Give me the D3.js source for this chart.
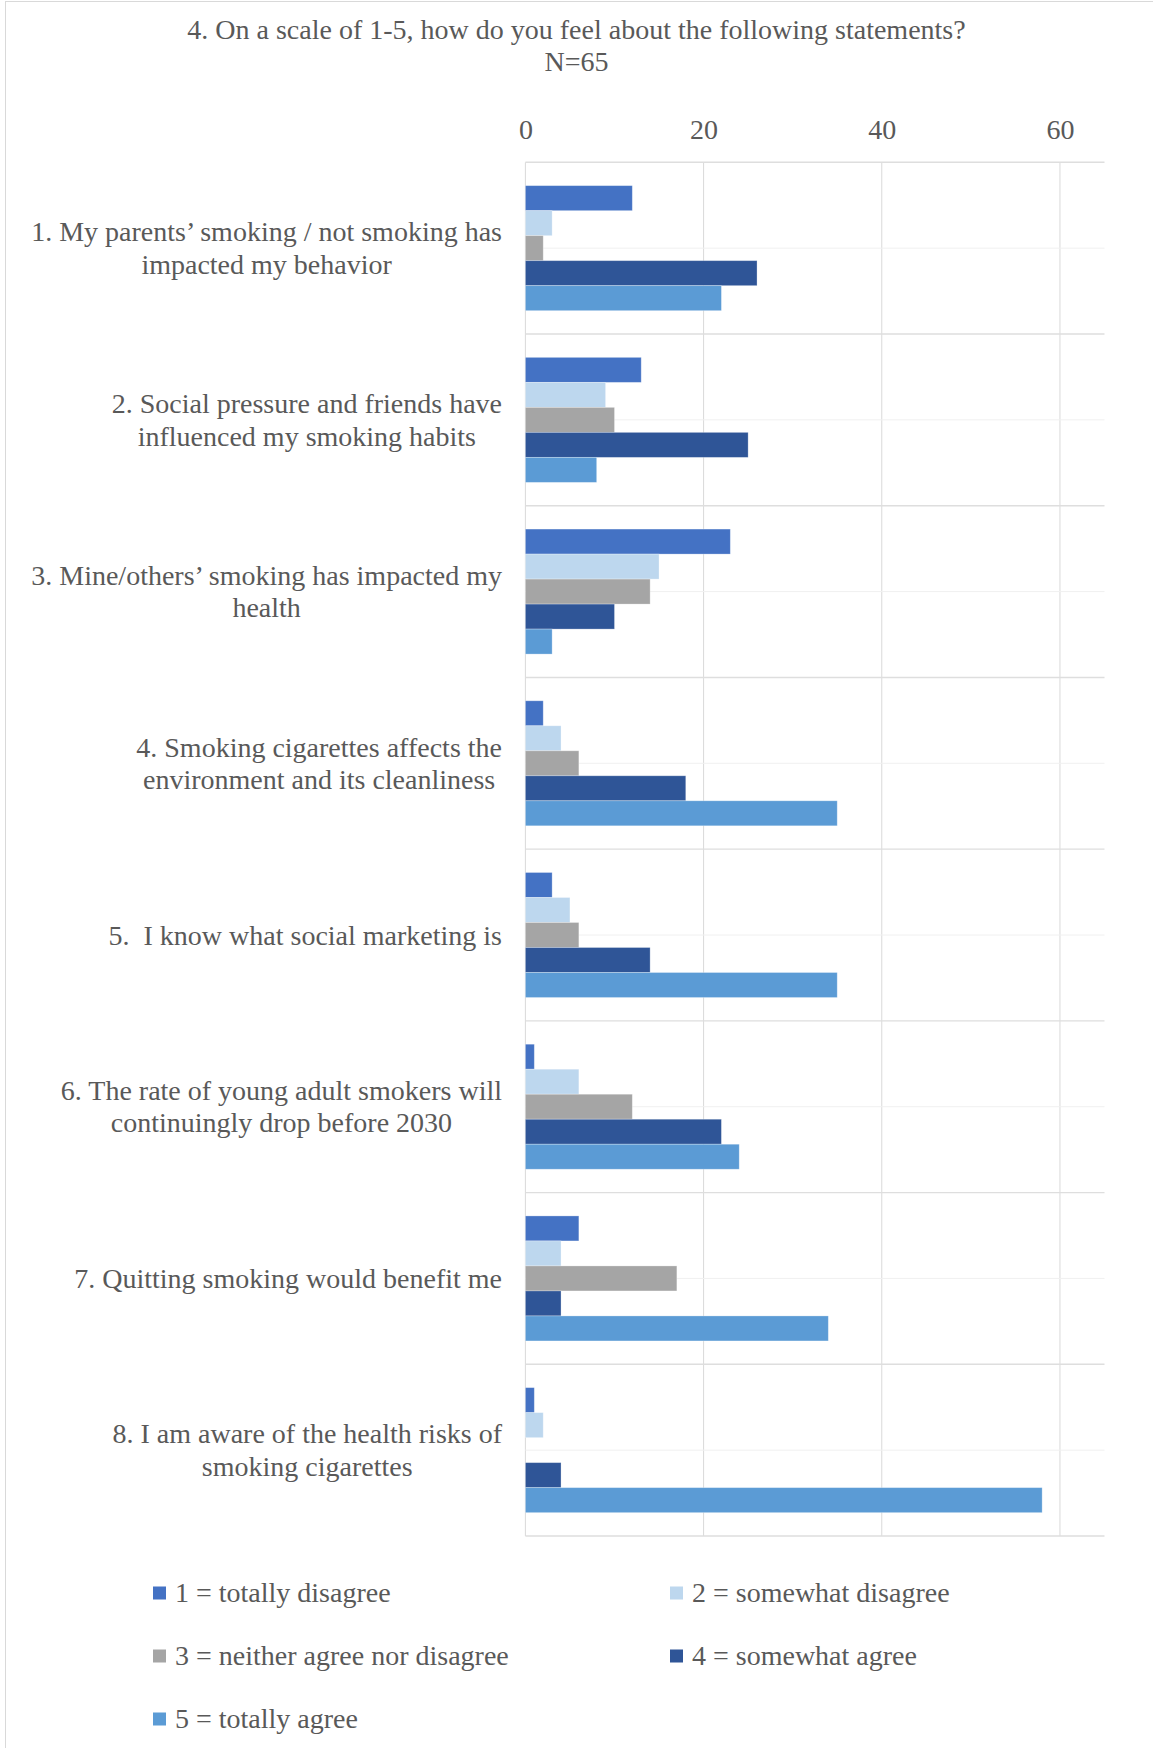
<!DOCTYPE html>
<html>
<head>
<meta charset="utf-8">
<script src="https://cdn.jsdelivr.net/npm/d3@7"></script>
<style>
  html, body { margin: 0; padding: 0; background: #fff; }
  svg { display: block; }
  text { font-family: "Liberation Serif", "Times New Roman", serif; fill: #595959; }
</style>
</head>
<body>
<svg id="chart" width="1153" height="1748"></svg>
<script>
// Survey statements, one array of text lines per statement
const statements = [
  ["1. My parents\u2019 smoking / not smoking has", "impacted my behavior"],
  ["2. Social pressure and friends have", "influenced my smoking habits"],
  ["3. Mine/others\u2019 smoking has impacted my", "health"],
  ["4. Smoking cigarettes affects the", "environment and its cleanliness"],
  ["5.\u00a0 I know what social marketing is"],
  ["6. The rate of young adult smokers will", "continuingly drop before 2030"],
  ["7. Quitting smoking would benefit me"],
  ["8. I am aware of the health risks of", "smoking cigarettes"]
];

// Answer options (series)
const seriesNames = [
  "1 = totally disagree",
  "2 = somewhat disagree",
  "3 = neither agree nor disagree",
  "4 = somewhat agree",
  "5 = totally agree"
];
const seriesColors = ["#4472C4", "#BDD7EE", "#A5A5A5", "#2F5597", "#5B9BD5"];

// Number of respondents per answer, one array per statement (1..5)
const s1 = [12, 3, 2, 26, 22];
const s2 = [13, 9, 10, 25, 8];
const s3 = [23, 15, 14, 10, 3];
const s4 = [2, 4, 6, 18, 35];
const s5 = [3, 5, 6, 14, 35];
const s6 = [1, 6, 12, 22, 24];
const s7 = [6, 4, 17, 4, 34];
const s8 = [1, 2, 0, 4, 58];
const counts = [s1, s2, s3, s4, s5, s6, s7, s8];

const xTicks = [0, 20, 40, 60];
const xMax = 65;
const titleLines = ["4. On a scale of 1-5, how do you feel about the following statements?", "N=65"];

const svg = d3.select("#chart");
const W = 1153;

// outer chart frame
svg.append("rect")
  .attr("x", 5.5).attr("y", 1.5)
  .attr("width", W + 10).attr("height", 1800)
  .attr("fill", "none").attr("stroke", "#d9d9d9").attr("stroke-width", 1);

const plot = { left: 525.4, right: 1104.5, top: 162.3, bottom: 1536 };

const x = d3.scaleLinear().domain([0, xMax]).range([plot.left, plot.right]);
const catIdx = d3.range(statements.length);
const y0 = d3.scaleBand().domain(catIdx).range([plot.top, plot.bottom]).padding(0);
const y1 = d3.scaleBand().domain(d3.range(seriesNames.length))
  .range([0, y0.bandwidth()]).paddingInner(0).paddingOuter(0.934);

// title
svg.append("g").selectAll("text").data(titleLines).join("text")
  .attr("x", W / 2).attr("y", (d, i) => 39 + i * 32)
  .attr("text-anchor", "middle").attr("font-size", 28)
  .text(d => d);

// vertical gridlines
svg.append("g").selectAll("line").data(xTicks).join("line")
  .attr("x1", d => x(d)).attr("x2", d => x(d))
  .attr("y1", plot.top).attr("y2", plot.bottom)
  .attr("stroke", "#d9d9d9").attr("stroke-width", 1);

// category midlines (light)
svg.append("g").selectAll("line").data(catIdx).join("line")
  .attr("x1", plot.left).attr("x2", plot.right)
  .attr("y1", d => y0(d) + y0.bandwidth() / 2).attr("y2", d => y0(d) + y0.bandwidth() / 2)
  .attr("stroke", "#f0f0f0").attr("stroke-width", 1);

// category boundaries
const bounds = catIdx.map(d => y0(d)).concat([plot.bottom]);
svg.append("g").selectAll("line").data(bounds).join("line")
  .attr("x1", plot.left).attr("x2", plot.right)
  .attr("y1", d => d).attr("y2", d => d)
  .attr("stroke", "#dedede").attr("stroke-width", 1.4);

// top axis tick labels
const xAxis = d3.axisTop(x).tickValues(xTicks).tickSize(0).tickPadding(0);
const axG = svg.append("g").attr("transform", `translate(0,139)`).call(xAxis);
axG.select(".domain").remove();
axG.selectAll("text")
  .attr("font-size", 28).attr("font-family", "Liberation Serif, serif")
  .attr("fill", "#595959").attr("dy", 0);

// bars
const groups = svg.append("g").selectAll("g").data(counts).join("g")
  .attr("transform", (d, i) => `translate(0,${y0(i)})`);
groups.selectAll("rect")
  .data(d => d.map((v, j) => ({ v, j })).filter(e => e.v > 0))
  .join("rect")
  .attr("x", x(0))
  .attr("y", e => y1(e.j))
  .attr("width", e => x(e.v) - x(0))
  .attr("height", y1.bandwidth())
  .attr("fill", e => seriesColors[e.j])
  .attr("stroke", "rgba(255,255,255,0.35)").attr("stroke-width", 0.8);

// category labels: block right-aligned, lines centred within the block
const labelRight = 502;
statements.forEach((lines, i) => {
  const g = svg.append("g");
  const cy = y0(i) + y0.bandwidth() / 2;
  const lh = 32.5;
  const t = g.selectAll("text").data(lines).join("text")
    .attr("font-size", 28)
    .attr("y", (d, k) => cy + 9.5 + (k - (lines.length - 1) / 2) * lh)
    .text(d => d);
  let maxW = 0;
  t.each(function () { maxW = Math.max(maxW, this.getComputedTextLength()); });
  t.attr("x", labelRight - maxW / 2).attr("text-anchor", "middle");
});

// legend
const legPos = [
  [153, 1593], [670, 1593],
  [153, 1656], [670, 1656],
  [153, 1719]
];
const leg = svg.append("g").selectAll("g").data(seriesNames).join("g")
  .attr("transform", (d, i) => `translate(${legPos[i][0]},${legPos[i][1]})`);
leg.append("rect")
  .attr("x", 0).attr("y", -6.5).attr("width", 13).attr("height", 13)
  .attr("fill", (d, i) => seriesColors[i]);
leg.append("text")
  .attr("x", 22).attr("y", 8.5).attr("font-size", 28)
  .text(d => d);
</script>
</body>
</html>
